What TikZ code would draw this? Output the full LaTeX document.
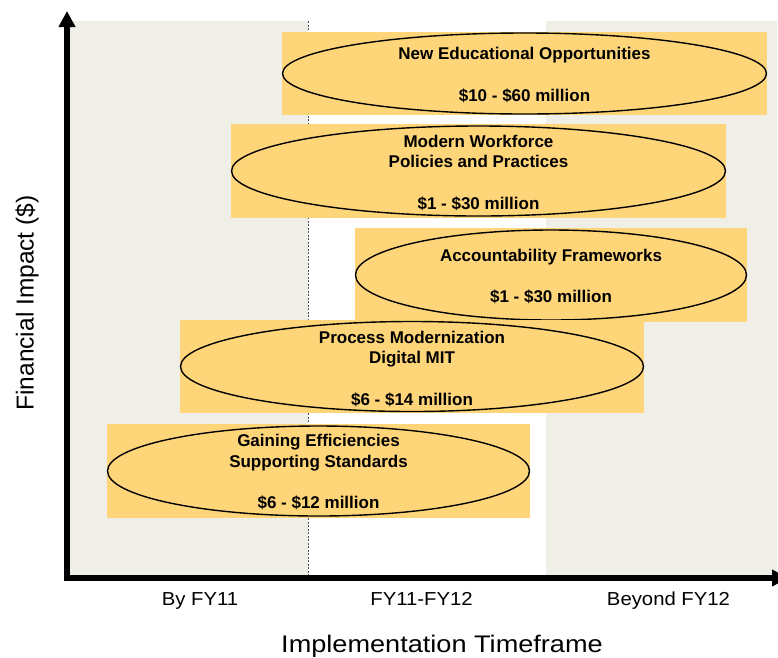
\documentclass[tikz,border=0pt]{standalone}
\usepackage{fontspec}
\setmainfont{Liberation Sans}
\newfontfamily\tickfont[FakeStretch=1.08]{Liberation Sans}
\newfontfamily\titlefont[FakeStretch=1.13]{Liberation Sans}
\usetikzlibrary{arrows.meta}
\definecolor{panelbeige}{RGB}{239,239,231}
\definecolor{boxgold}{RGB}{255,213,121}
\tikzset{
  panel/.style={fill=panelbeige, draw=none},
  goldbox/.style={fill=boxgold, draw=none, inner sep=0pt},
  boxtext/.style={inner sep=0pt, align=center,
    font=\fontsize{17}{20.7}\selectfont\bfseries},
  ring/.style={draw=black, line width=1.4pt},
  ticklabel/.style={anchor=base, inner sep=0pt, font=\tickfont\fontsize{18.8}{22}\selectfont},
  axistitle/.style={anchor=base, inner sep=0pt, font=\titlefont\fontsize{24}{28}\selectfont},
  axisline/.style={line width=6pt,
    arrows={Triangle[width=16pt,length=16pt]-Triangle[width=16pt,length=16pt]}},
}
\begin{document}
\begin{tikzpicture}[x=1pt,y=-1pt]
\useasboundingbox (0,0) rectangle (778,657);
% background panels
\fill[panel] (70,21) rectangle (308,578);
\fill[panel] (546,21) rectangle (777,578);
\draw[black!70, line width=0.6pt, dash pattern=on 2pt off 1.5pt] (308,21) -- (308,578);
% boxes
\node[goldbox, minimum width=485pt, minimum height=83pt] (b1) at (524.5,73.5) {};
\draw[ring] (b1.center) ellipse [x radius=242pt, y radius=40.5pt];
\node[boxtext] (b1t) at ([yshift=-1.5pt]b1.center)
  {New Educational Opportunities\\[20.7pt]\$10 - \$60 million};
\node[goldbox, minimum width=495pt, minimum height=94pt] (b2) at (478.5,171) {};
\draw[ring] (b2.center) ellipse [x radius=247pt, y radius=45pt];
\node[boxtext] (b2t) at ([yshift=-1.7pt]b2.center)
  {Modern Workforce\\Policies and Practices\\[20.7pt]\$1 - \$30 million};
\node[goldbox, minimum width=392pt, minimum height=94pt] (b3) at (551,275) {};
\draw[ring] (b3.center) ellipse [x radius=195.5pt, y radius=45pt];
\node[boxtext] (b3t) at ([yshift=-1.5pt]b3.center)
  {Accountability Frameworks\\[20.7pt]\$1 - \$30 million};
\node[goldbox, minimum width=464pt, minimum height=93pt] (b4) at (412,366.5) {};
\draw[ring] (b4.center) ellipse [x radius=231.5pt, y radius=45pt];
\node[boxtext] (b4t) at ([yshift=-2.3pt]b4.center)
  {Process Modernization\\Digital MIT\\[20.7pt]\$6 - \$14 million};
\node[goldbox, minimum width=423pt, minimum height=94pt] (b5) at (318.5,471) {};
\draw[ring] (b5.center) ellipse [x radius=211pt, y radius=45pt];
\node[boxtext] (b5t) at ([yshift=-1.2pt]b5.center)
  {Gaining Efficiencies\\Supporting Standards\\[20.7pt]\$6 - \$12 million};
% axes
\coordinate (ytip) at (67,11);
\coordinate (origin) at (67,578);
\coordinate (xtip) at (788,578);
\draw[axisline] (ytip) -- (origin) -- (xtip);
% labels
\node[ticklabel] (t1) at (200,605) {By FY11};
\node[ticklabel] (t2) at (421.5,605) {FY11-FY12};
\node[ticklabel] (t3) at (668.5,605) {Beyond FY12};
\node[axistitle] (xt) at (442,652) {Implementation Timeframe};
\node[axistitle, rotate=90, font=\fontsize{24.5}{28}\selectfont] (yt) at (33.5,303) {Financial Impact (\$)};
\end{tikzpicture}
\end{document}
